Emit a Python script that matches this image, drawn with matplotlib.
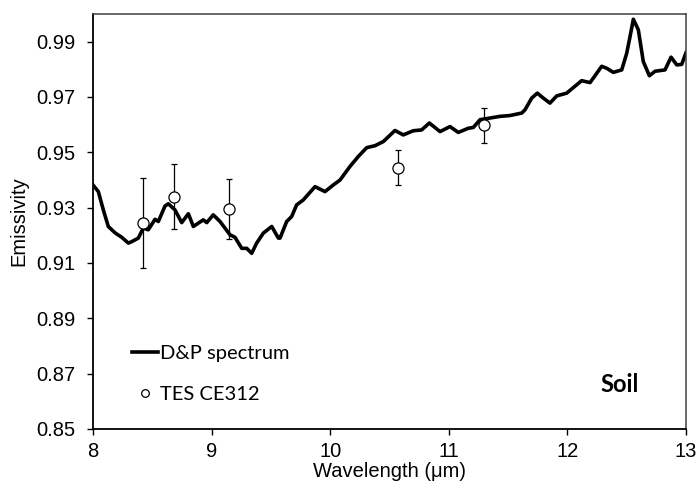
import matplotlib
matplotlib.use("Agg")
import matplotlib.pyplot as plt
from matplotlib.lines import Line2D

# D&P spectrum (wavelength in µm, emissivity)
dp_wavelength = [8.000, 8.045, 8.087, 8.129, 8.186, 8.242, 8.298, 8.326, 8.382, 8.424,
                 8.466, 8.523, 8.551, 8.607, 8.635, 8.691, 8.748, 8.804, 8.846, 8.930,
                 8.959, 9.014, 9.071, 9.155, 9.197, 9.254, 9.296, 9.338, 9.380, 9.436,
                 9.507, 9.563, 9.577, 9.633, 9.675, 9.717, 9.773, 9.872, 9.956, 10.026,
                 10.083, 10.167, 10.237, 10.308, 10.378, 10.448, 10.546, 10.616, 10.701, 10.771,
                 10.836, 10.926, 11.010, 11.080, 11.164, 11.207, 11.263, 11.347, 11.432, 11.516,
                 11.615, 11.643, 11.699, 11.746, 11.797, 11.853, 11.910, 11.994, 12.078, 12.120,
                 12.191, 12.233, 12.289, 12.331, 12.387, 12.458, 12.500, 12.528, 12.556, 12.598,
                 12.640, 12.691, 12.739, 12.823, 12.874, 12.922, 12.964, 13.000]
dp_emissivity = [0.9382, 0.9358, 0.9292, 0.9232, 0.9209, 0.9193, 0.9172, 0.9177, 0.9190, 0.9226,
                 0.9220, 0.9258, 0.9250, 0.9306, 0.9314, 0.9292, 0.9246, 0.9278, 0.9232, 0.9256,
                 0.9246, 0.9274, 0.9250, 0.9202, 0.9193, 0.9153, 0.9153, 0.9135, 0.9172, 0.9208,
                 0.9232, 0.9190, 0.9190, 0.9250, 0.9268, 0.9310, 0.9328, 0.9376, 0.9358, 0.9382,
                 0.9400, 0.9449, 0.9485, 0.9517, 0.9524, 0.9539, 0.9579, 0.9563, 0.9578, 0.9581,
                 0.9606, 0.9575, 0.9593, 0.9572, 0.9587, 0.9590, 0.9618, 0.9624, 0.9630, 0.9633,
                 0.9642, 0.9654, 0.9696, 0.9714, 0.9696, 0.9678, 0.9704, 0.9714, 0.9744, 0.9759,
                 0.9752, 0.9777, 0.9811, 0.9804, 0.9789, 0.9798, 0.9858, 0.9918, 0.9981, 0.9943,
                 0.9828, 0.9777, 0.9793, 0.9798, 0.9844, 0.9816, 0.9818, 0.9860]

# TES CE312 measurements
tes_wavelength = [8.424, 8.683, 9.149, 10.574, 11.298]
tes_emissivity = [0.9244, 0.9340, 0.9296, 0.9445, 0.9597]
tes_error = [0.0163, 0.0117, 0.0108, 0.0063, 0.0063]

x_ticks = [8, 9, 10, 11, 12, 13]
y_ticks = [0.85, 0.87, 0.89, 0.91, 0.93, 0.95, 0.97, 0.99]
y_tick_labels = ["0.85", "0.87", "0.89", "0.91", "0.93", "0.95", "0.97", "0.99"]

plt.rcParams['font.family'] = ['Liberation Sans', 'DejaVu Sans']

fig = plt.figure(figsize=(6.98, 4.84), dpi=100)
ax = fig.add_axes([93/698, 1 - 429/484, (686-93)/698, (429-14)/484])

ax.plot(dp_wavelength, dp_emissivity, color='black', lw=2.6, solid_joinstyle='round')
ax.errorbar(tes_wavelength, tes_emissivity, yerr=tes_error, fmt='o', mfc='white', mec='black',
            mew=0.9, ms=8, ecolor='black', elinewidth=0.9, capsize=2.5, capthick=0.9)

ax.set_xlim(8, 13)
ax.set_ylim(0.85, 1.0)
ax.set_xticks(x_ticks)
ax.set_xticklabels([str(t) for t in x_ticks])
ax.set_yticks(y_ticks)
ax.set_yticklabels(y_tick_labels)
ax.tick_params(axis='both', labelsize=14.5, direction='out', length=4.3, width=1, color='black')
ax.tick_params(axis='y', pad=8.5)
ax.tick_params(axis='x', pad=5)
ax.tick_params(top=False, right=False)

for s in ['left', 'bottom']:
    ax.spines[s].set_linewidth(1.3)
    ax.spines[s].set_color('black')
for s in ['top', 'right']:
    ax.spines[s].set_linewidth(1.1)
    ax.spines[s].set_color('#404040')

ax.set_xlabel('Wavelength (\u03bcm)', fontsize=14.5)
ax.xaxis.set_label_coords(0.5, -0.0805)
ax.set_ylabel('Emissivity', fontsize=14.5)
ax.yaxis.set_label_coords(-0.1088, 0.5)

handles = [Line2D([], [], color='black', lw=2.6),
           Line2D([], [], ls='none', marker='o', mfc='white', mec='black', ms=5.5, mew=0.9)]
leg = ax.legend(handles, ['D&P spectrum', 'TES CE312'], loc='center left',
                bbox_to_anchor=(0.0653, 0.1325), frameon=False, handlelength=1.3,
                handletextpad=0.1, labelspacing=1.2, borderpad=0, borderaxespad=0,
                prop={'family': 'Lato', 'size': 14.5})

ax.text(0.888, 0.0899, 'Soil', transform=ax.transAxes, fontsize=17, fontweight='bold',
        family='Lato', ha='center', va='baseline')

fig.savefig('out.png', dpi=100)
